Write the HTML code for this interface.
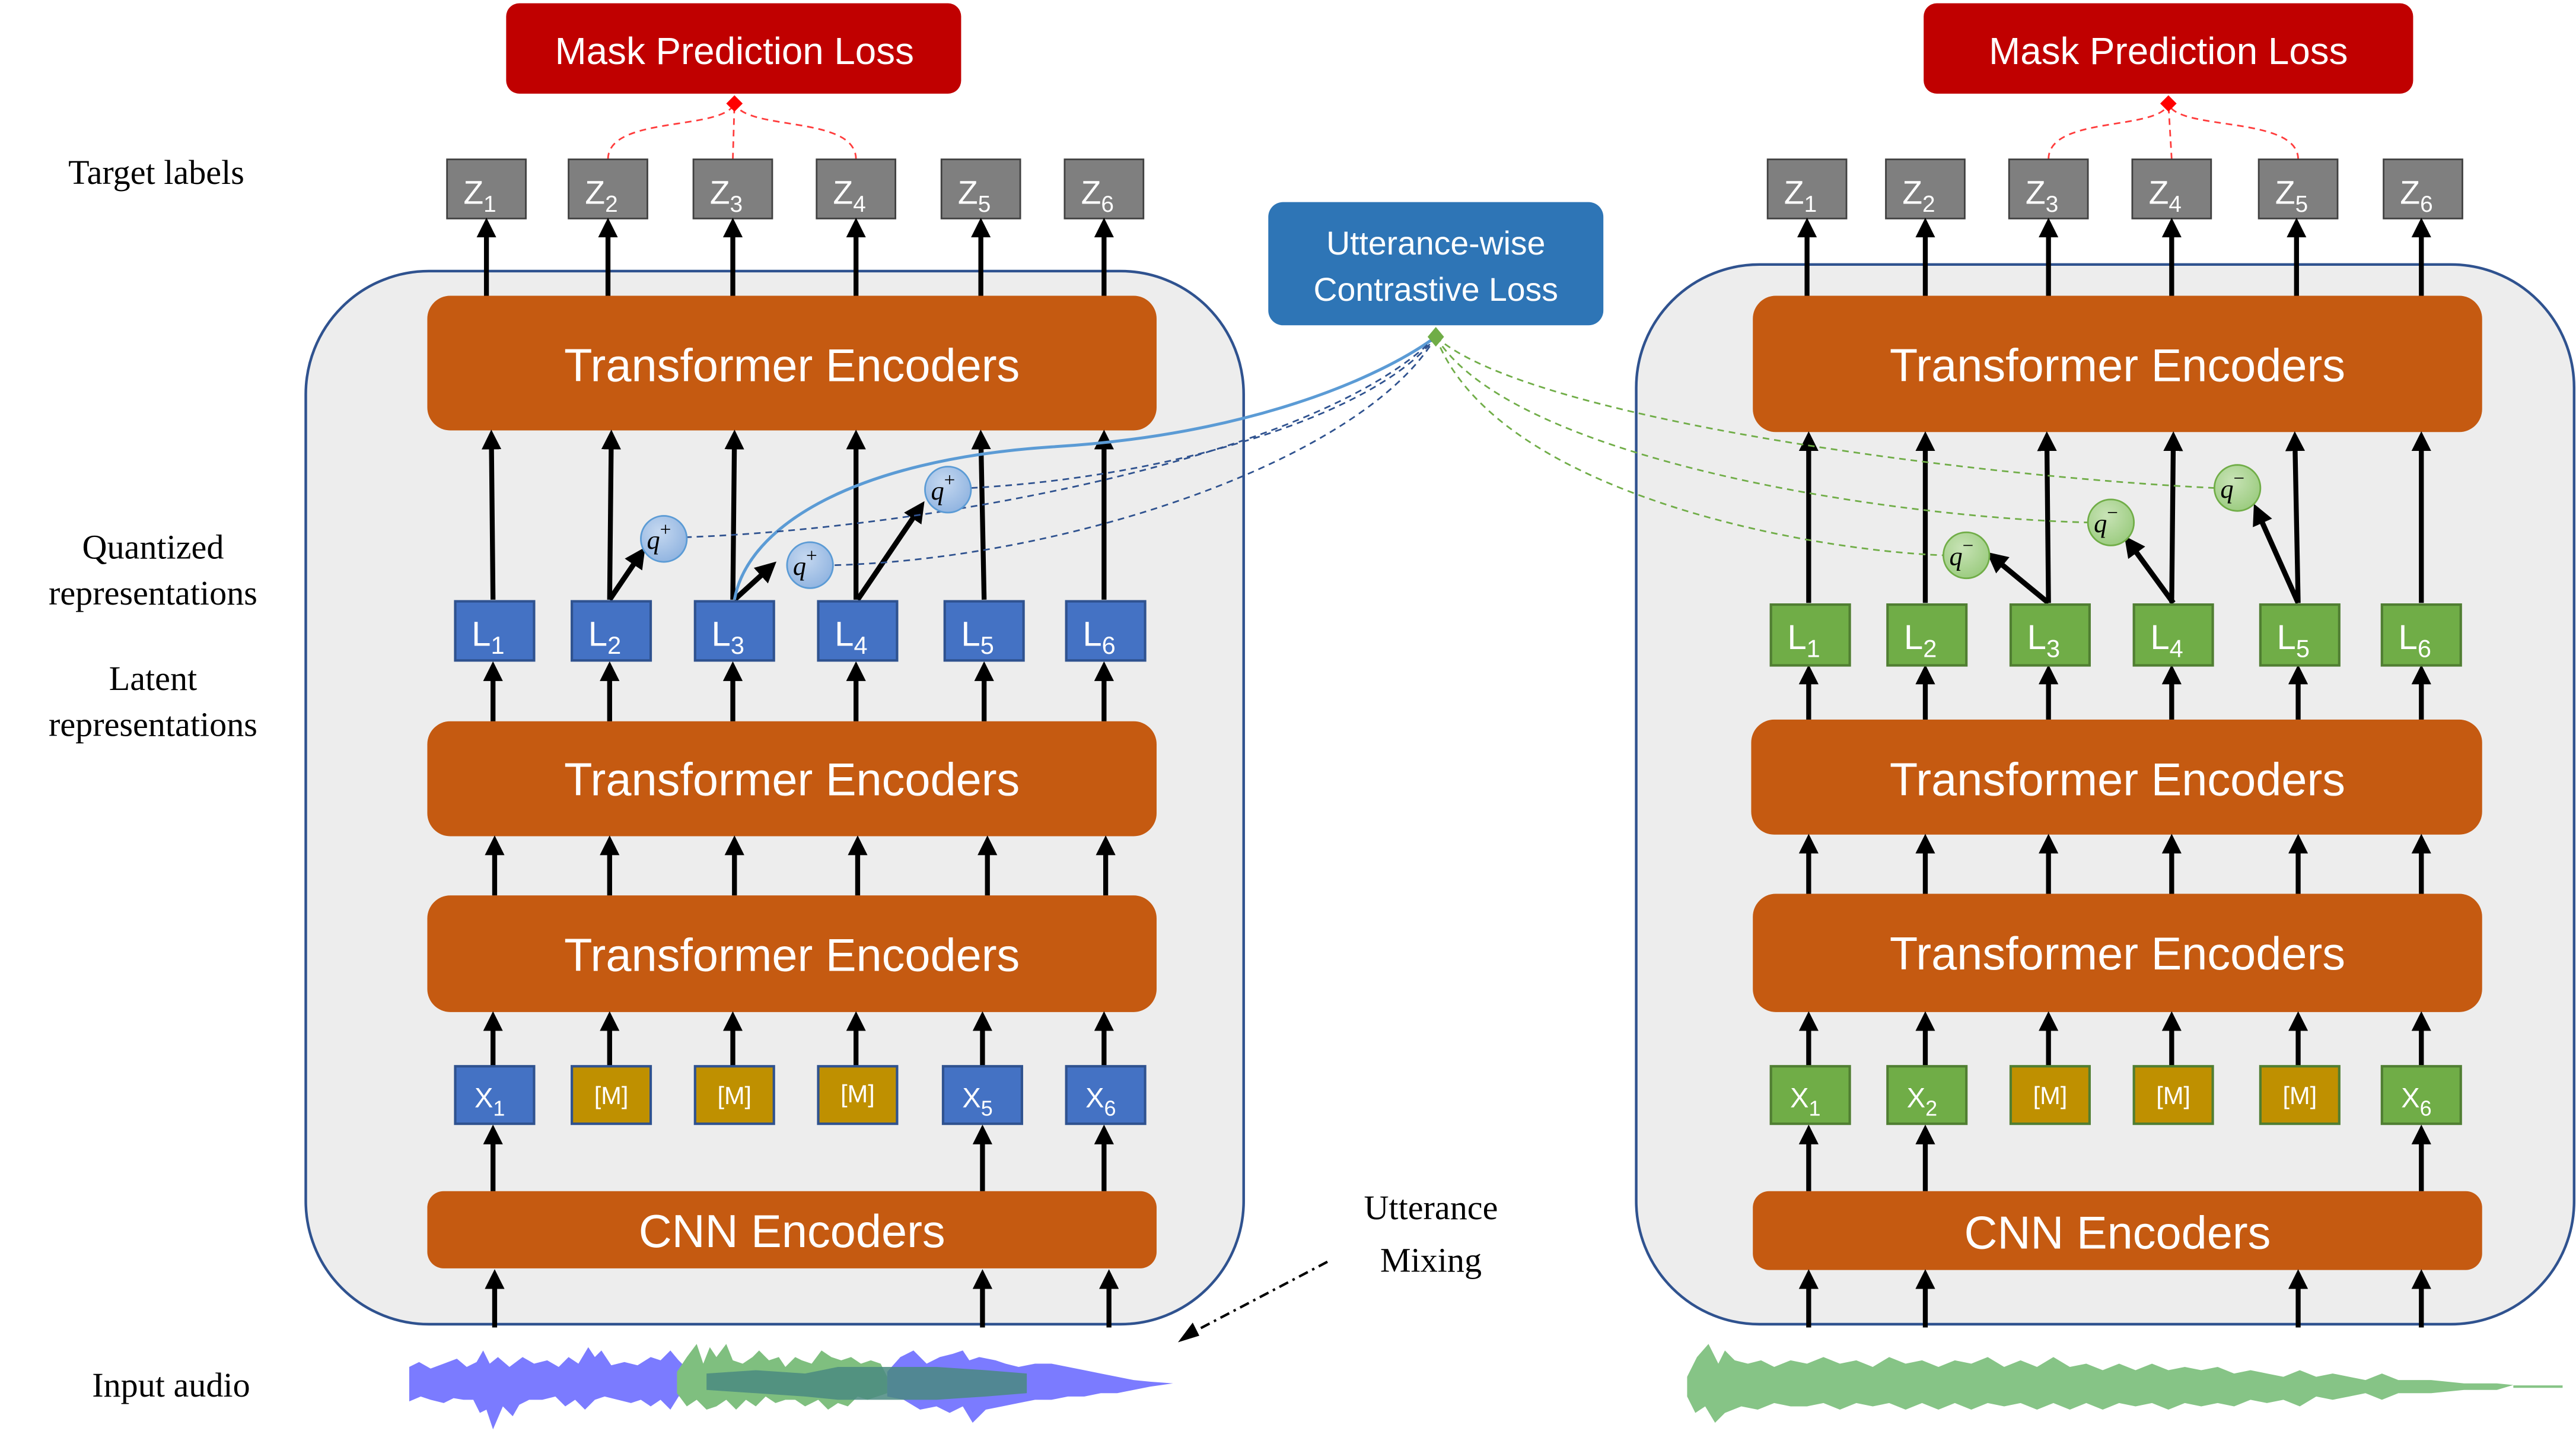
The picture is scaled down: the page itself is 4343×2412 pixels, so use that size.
<!DOCTYPE html>
<html><head><meta charset="utf-8"><style>
html,body{margin:0;padding:0;background:#fff;}
svg{display:block;}
</style></head><body>
<svg width="4343" height="2412" viewBox="0 0 1568 871" xmlns="http://www.w3.org/2000/svg" font-family="'Liberation Sans', sans-serif">
<defs>
<marker id="ah" markerWidth="4" markerHeight="4" refX="2.5" refY="2" orient="auto" markerUnits="strokeWidth"><path d="M0,0 L4,2 L0,4 z" fill="#000"/></marker>
<radialGradient id="qb" cx="40%" cy="35%" r="70%"><stop offset="0" stop-color="#c5d8f0"/><stop offset="1" stop-color="#8fb3e0"/></radialGradient>
<radialGradient id="qg" cx="40%" cy="35%" r="70%"><stop offset="0" stop-color="#c8e3b6"/><stop offset="1" stop-color="#9acb7e"/></radialGradient>
</defs>
<rect width="1568" height="871" fill="#fff"/>

<rect x="186" y="165" width="571" height="641" rx="75" fill="#ededed" stroke="#2f528f" stroke-width="1.6"/>
<rect x="996" y="161" width="571" height="645" rx="75" fill="#ededed" stroke="#2f528f" stroke-width="1.6"/>

<rect x="308" y="2" width="277" height="55" rx="8" fill="#c00000"/>
<text x="447" y="39" font-size="23" fill="#fff" text-anchor="middle">Mask Prediction Loss</text>
<rect x="1171" y="2" width="298" height="55" rx="8" fill="#c00000"/>
<text x="1320" y="39" font-size="23" fill="#fff" text-anchor="middle">Mask Prediction Loss</text>

<g fill="none" stroke="#ff3b3b" stroke-width="1" stroke-dasharray="4,3">
<path d="M370,97 C370,70 440,80 447,63"/><path d="M446,97 L447,63"/><path d="M521,97 C521,70 455,80 447,63"/>
<path d="M1247,97 C1247,70 1315,80 1320,63"/><path d="M1322,97 L1320,63"/><path d="M1399,97 C1399,70 1325,80 1320,63"/>
</g>
<path d="M447,58 L452,63 L447,68 L442,63z" fill="#ff0000"/>
<path d="M1320,58 L1325,63 L1320,68 L1315,63z" fill="#ff0000"/>

<g font-family="'Liberation Serif', serif" font-size="21" fill="#000" text-anchor="middle">
<text x="95" y="112">Target labels</text>
<text x="93" y="340">Quantized</text><text x="93" y="368">representations</text>
<text x="93" y="420">Latent</text><text x="93" y="448">representations</text>
<text x="104" y="850">Input audio</text>
<text x="871" y="742">Utterance</text><text x="871" y="774">Mixing</text>
</g>

<g font-size="20" fill="#fff" text-anchor="middle">
<rect x="272" y="97" width="48" height="36" fill="#7f7f7f" stroke="#404040"/><text x="292" y="124">Z<tspan font-size="14" dy="5">1</tspan></text>
<rect x="346" y="97" width="48" height="36" fill="#7f7f7f" stroke="#404040"/><text x="366" y="124">Z<tspan font-size="14" dy="5">2</tspan></text>
<rect x="422" y="97" width="48" height="36" fill="#7f7f7f" stroke="#404040"/><text x="442" y="124">Z<tspan font-size="14" dy="5">3</tspan></text>
<rect x="497" y="97" width="48" height="36" fill="#7f7f7f" stroke="#404040"/><text x="517" y="124">Z<tspan font-size="14" dy="5">4</tspan></text>
<rect x="573" y="97" width="48" height="36" fill="#7f7f7f" stroke="#404040"/><text x="593" y="124">Z<tspan font-size="14" dy="5">5</tspan></text>
<rect x="648" y="97" width="48" height="36" fill="#7f7f7f" stroke="#404040"/><text x="668" y="124">Z<tspan font-size="14" dy="5">6</tspan></text>
<rect x="1076" y="97" width="48" height="36" fill="#7f7f7f" stroke="#404040"/><text x="1096" y="124">Z<tspan font-size="14" dy="5">1</tspan></text>
<rect x="1148" y="97" width="48" height="36" fill="#7f7f7f" stroke="#404040"/><text x="1168" y="124">Z<tspan font-size="14" dy="5">2</tspan></text>
<rect x="1223" y="97" width="48" height="36" fill="#7f7f7f" stroke="#404040"/><text x="1243" y="124">Z<tspan font-size="14" dy="5">3</tspan></text>
<rect x="1298" y="97" width="48" height="36" fill="#7f7f7f" stroke="#404040"/><text x="1318" y="124">Z<tspan font-size="14" dy="5">4</tspan></text>
<rect x="1375" y="97" width="48" height="36" fill="#7f7f7f" stroke="#404040"/><text x="1395" y="124">Z<tspan font-size="14" dy="5">5</tspan></text>
<rect x="1451" y="97" width="48" height="36" fill="#7f7f7f" stroke="#404040"/><text x="1471" y="124">Z<tspan font-size="14" dy="5">6</tspan></text>
</g>

<g fill="#c55a11">
<rect x="260" y="180" width="444" height="82" rx="14"/>
<rect x="260" y="439" width="444" height="70" rx="14"/>
<rect x="260" y="545" width="444" height="71" rx="14"/>
<rect x="260" y="725" width="444" height="47" rx="10"/>
<rect x="1067" y="180" width="444" height="83" rx="14"/>
<rect x="1066" y="438" width="445" height="70" rx="14"/>
<rect x="1067" y="544" width="444" height="72" rx="14"/>
<rect x="1067" y="725" width="444" height="48" rx="10"/>
</g>
<g fill="#fff" font-size="28" text-anchor="middle">
<text x="482" y="232">Transformer Encoders</text>
<text x="482" y="484">Transformer Encoders</text>
<text x="482" y="591">Transformer Encoders</text>
<text x="482" y="759">CNN Encoders</text>
<text x="1289" y="232">Transformer Encoders</text>
<text x="1289" y="484">Transformer Encoders</text>
<text x="1289" y="590">Transformer Encoders</text>
<text x="1289" y="760">CNN Encoders</text>
</g>

<rect x="772" y="123" width="204" height="75" rx="9" fill="#2e75b6"/>
<text x="874" y="155" font-size="20" fill="#fff" text-anchor="middle">Utterance-wise</text>
<text x="874" y="183" font-size="20" fill="#fff" text-anchor="middle">Contrastive Loss</text>

<g stroke="#000" stroke-width="3" marker-end="url(#ah)" fill="none">
<line x1="296" y1="180" x2="296" y2="137"/><line x1="370" y1="180" x2="370" y2="137"/><line x1="446" y1="180" x2="446" y2="137"/><line x1="521" y1="180" x2="521" y2="137"/><line x1="597" y1="180" x2="597" y2="137"/><line x1="672" y1="180" x2="672" y2="137"/>
<line x1="1100" y1="180" x2="1100" y2="137"/><line x1="1172" y1="180" x2="1172" y2="137"/><line x1="1247" y1="180" x2="1247" y2="137"/><line x1="1322" y1="180" x2="1322" y2="137"/><line x1="1398" y1="180" x2="1398" y2="137"/><line x1="1474" y1="180" x2="1474" y2="137"/>
<line x1="300" y1="365" x2="299" y2="266"/><line x1="371" y1="365" x2="372" y2="266"/><line x1="446" y1="365" x2="447" y2="266"/><line x1="521" y1="365" x2="521" y2="266"/><line x1="599" y1="365" x2="597" y2="266"/><line x1="672" y1="365" x2="672" y2="266"/>
<line x1="1101" y1="367" x2="1101" y2="267"/><line x1="1172" y1="367" x2="1172" y2="267"/><line x1="1247" y1="367" x2="1246" y2="267"/><line x1="1322" y1="367" x2="1323" y2="267"/><line x1="1399" y1="367" x2="1397" y2="267"/><line x1="1474" y1="367" x2="1474" y2="267"/>
<line x1="300" y1="439" x2="300" y2="407"/><line x1="371" y1="439" x2="371" y2="407"/><line x1="446" y1="439" x2="446" y2="407"/><line x1="521" y1="439" x2="521" y2="407"/><line x1="599" y1="439" x2="599" y2="407"/><line x1="672" y1="439" x2="672" y2="407"/>
<line x1="1101" y1="438" x2="1101" y2="409"/><line x1="1172" y1="438" x2="1172" y2="409"/><line x1="1247" y1="438" x2="1247" y2="409"/><line x1="1322" y1="438" x2="1322" y2="409"/><line x1="1399" y1="438" x2="1399" y2="409"/><line x1="1474" y1="438" x2="1474" y2="409"/>
<line x1="301" y1="545" x2="301" y2="513"/><line x1="371" y1="545" x2="371" y2="513"/><line x1="447" y1="545" x2="447" y2="513"/><line x1="522" y1="545" x2="522" y2="513"/><line x1="601" y1="545" x2="601" y2="513"/><line x1="673" y1="545" x2="673" y2="513"/>
<line x1="1101" y1="544" x2="1101" y2="512"/><line x1="1172" y1="544" x2="1172" y2="512"/><line x1="1247" y1="544" x2="1247" y2="512"/><line x1="1322" y1="544" x2="1322" y2="512"/><line x1="1399" y1="544" x2="1399" y2="512"/><line x1="1474" y1="544" x2="1474" y2="512"/>
<line x1="300" y1="649" x2="300" y2="620"/><line x1="371" y1="649" x2="371" y2="620"/><line x1="446" y1="649" x2="446" y2="620"/><line x1="521" y1="649" x2="521" y2="620"/><line x1="598" y1="649" x2="598" y2="620"/><line x1="672" y1="649" x2="672" y2="620"/>
<line x1="1101" y1="649" x2="1101" y2="620"/><line x1="1172" y1="649" x2="1172" y2="620"/><line x1="1247" y1="649" x2="1247" y2="620"/><line x1="1322" y1="649" x2="1322" y2="620"/><line x1="1399" y1="649" x2="1399" y2="620"/><line x1="1474" y1="649" x2="1474" y2="620"/>
<line x1="300" y1="725" x2="300" y2="689"/><line x1="598" y1="725" x2="598" y2="689"/><line x1="672" y1="725" x2="672" y2="689"/>
<line x1="1101" y1="725" x2="1101" y2="689"/><line x1="1172" y1="725" x2="1172" y2="689"/><line x1="1474" y1="725" x2="1474" y2="689"/>
<line x1="301" y1="808" x2="301" y2="777"/><line x1="598" y1="808" x2="598" y2="777"/><line x1="675" y1="808" x2="675" y2="777"/>
<line x1="1101" y1="808" x2="1101" y2="777"/><line x1="1172" y1="808" x2="1172" y2="777"/><line x1="1399" y1="808" x2="1399" y2="777"/><line x1="1474" y1="808" x2="1474" y2="777"/>
</g>
<g stroke="#000" stroke-width="3.2" marker-end="url(#ah)" fill="none">
<line x1="371" y1="365" x2="390" y2="337"/><line x1="447" y1="365" x2="469" y2="345"/><line x1="522" y1="365" x2="560" y2="309"/>
<line x1="1247" y1="367" x2="1213" y2="339"/><line x1="1323" y1="367" x2="1296" y2="330"/><line x1="1399" y1="367" x2="1374" y2="311"/>
</g>

<path d="M447,365 C455,320 520,280 640,272 C760,265 840,230 874,205" fill="none" stroke="#5b9bd5" stroke-width="1.8"/>
<g fill="none" stroke="#2f528f" stroke-width="1" stroke-dasharray="4,3">
<path d="M417,327 C560,322 800,280 874,205"/><path d="M508,344 C650,340 830,280 874,205"/><path d="M591,297 C720,290 840,250 874,205"/>
</g>
<g fill="none" stroke="#70ad47" stroke-width="1" stroke-dasharray="4,3">
<path d="M874,205 C910,300 1100,335 1183,338"/><path d="M874,205 C920,280 1150,315 1271,318"/><path d="M874,205 C930,255 1200,290 1348,297"/>
</g>
<path d="M874,199 L879,205 L874,211 L869,205z" fill="#70ad47"/>

<g font-family="'Liberation Serif', serif" font-style="italic" font-size="16" text-anchor="middle">
<ellipse cx="404" cy="328" rx="14" ry="14" fill="url(#qb)" stroke="#5b9bd5"/><text x="401" y="334">q<tspan font-style="normal" font-size="12" dy="-8">+</tspan></text>
<ellipse cx="493" cy="344" rx="14" ry="14" fill="url(#qb)" stroke="#5b9bd5"/><text x="490" y="350">q<tspan font-style="normal" font-size="12" dy="-8">+</tspan></text>
<ellipse cx="577" cy="298" rx="14" ry="14" fill="url(#qb)" stroke="#5b9bd5"/><text x="574" y="304">q<tspan font-style="normal" font-size="12" dy="-8">+</tspan></text>
<ellipse cx="1197" cy="338" rx="14" ry="14" fill="url(#qg)" stroke="#70ad47"/><text x="1194" y="344">q<tspan font-style="normal" font-size="12" dy="-8">−</tspan></text>
<ellipse cx="1285" cy="318" rx="14" ry="14" fill="url(#qg)" stroke="#70ad47"/><text x="1282" y="324">q<tspan font-style="normal" font-size="12" dy="-8">−</tspan></text>
<ellipse cx="1362" cy="297" rx="14" ry="14" fill="url(#qg)" stroke="#70ad47"/><text x="1359" y="303">q<tspan font-style="normal" font-size="12" dy="-8">−</tspan></text>
</g>

<g font-size="21" fill="#fff" text-anchor="middle">
<rect x="277" y="366" width="48" height="36" fill="#4472c4" stroke="#2f528f" stroke-width="1.5"/><text x="297" y="393">L<tspan font-size="15" dy="5">1</tspan></text>
<rect x="348" y="366" width="48" height="36" fill="#4472c4" stroke="#2f528f" stroke-width="1.5"/><text x="368" y="393">L<tspan font-size="15" dy="5">2</tspan></text>
<rect x="423" y="366" width="48" height="36" fill="#4472c4" stroke="#2f528f" stroke-width="1.5"/><text x="443" y="393">L<tspan font-size="15" dy="5">3</tspan></text>
<rect x="498" y="366" width="48" height="36" fill="#4472c4" stroke="#2f528f" stroke-width="1.5"/><text x="518" y="393">L<tspan font-size="15" dy="5">4</tspan></text>
<rect x="575" y="366" width="48" height="36" fill="#4472c4" stroke="#2f528f" stroke-width="1.5"/><text x="595" y="393">L<tspan font-size="15" dy="5">5</tspan></text>
<rect x="649" y="366" width="48" height="36" fill="#4472c4" stroke="#2f528f" stroke-width="1.5"/><text x="669" y="393">L<tspan font-size="15" dy="5">6</tspan></text>
<rect x="1078" y="368" width="48" height="37" fill="#70ad47" stroke="#507e32" stroke-width="1.5"/><text x="1098" y="395">L<tspan font-size="15" dy="5">1</tspan></text>
<rect x="1149" y="368" width="48" height="37" fill="#70ad47" stroke="#507e32" stroke-width="1.5"/><text x="1169" y="395">L<tspan font-size="15" dy="5">2</tspan></text>
<rect x="1224" y="368" width="48" height="37" fill="#70ad47" stroke="#507e32" stroke-width="1.5"/><text x="1244" y="395">L<tspan font-size="15" dy="5">3</tspan></text>
<rect x="1299" y="368" width="48" height="37" fill="#70ad47" stroke="#507e32" stroke-width="1.5"/><text x="1319" y="395">L<tspan font-size="15" dy="5">4</tspan></text>
<rect x="1376" y="368" width="48" height="37" fill="#70ad47" stroke="#507e32" stroke-width="1.5"/><text x="1396" y="395">L<tspan font-size="15" dy="5">5</tspan></text>
<rect x="1450" y="368" width="48" height="37" fill="#70ad47" stroke="#507e32" stroke-width="1.5"/><text x="1470" y="395">L<tspan font-size="15" dy="5">6</tspan></text>
</g>

<g font-size="17" fill="#fff" text-anchor="middle">
<rect x="277" y="649" width="48" height="35" fill="#4472c4" stroke="#2f528f" stroke-width="1.5"/><text x="298" y="674">X<tspan font-size="13" dy="5">1</tspan></text>
<rect x="348" y="649" width="48" height="35" fill="#bf9000" stroke="#2f528f" stroke-width="1.5"/><text x="372" y="672" font-size="15">[M]</text>
<rect x="423" y="649" width="48" height="35" fill="#bf9000" stroke="#2f528f" stroke-width="1.5"/><text x="447" y="672" font-size="15">[M]</text>
<rect x="498" y="649" width="48" height="35" fill="#bf9000" stroke="#2f528f" stroke-width="1.5"/><text x="522" y="671" font-size="15">[M]</text>
<rect x="574" y="649" width="48" height="35" fill="#4472c4" stroke="#2f528f" stroke-width="1.5"/><text x="595" y="674">X<tspan font-size="13" dy="5">5</tspan></text>
<rect x="649" y="649" width="48" height="35" fill="#4472c4" stroke="#2f528f" stroke-width="1.5"/><text x="670" y="674">X<tspan font-size="13" dy="5">6</tspan></text>
<rect x="1078" y="649" width="48" height="35" fill="#70ad47" stroke="#507e32" stroke-width="1.5"/><text x="1099" y="674">X<tspan font-size="13" dy="5">1</tspan></text>
<rect x="1149" y="649" width="48" height="35" fill="#70ad47" stroke="#507e32" stroke-width="1.5"/><text x="1170" y="674">X<tspan font-size="13" dy="5">2</tspan></text>
<rect x="1224" y="649" width="48" height="35" fill="#bf9000" stroke="#507e32" stroke-width="1.5"/><text x="1248" y="672" font-size="15">[M]</text>
<rect x="1299" y="649" width="48" height="35" fill="#bf9000" stroke="#507e32" stroke-width="1.5"/><text x="1323" y="672" font-size="15">[M]</text>
<rect x="1376" y="649" width="48" height="35" fill="#bf9000" stroke="#507e32" stroke-width="1.5"/><text x="1400" y="672" font-size="15">[M]</text>
<rect x="1450" y="649" width="48" height="35" fill="#70ad47" stroke="#507e32" stroke-width="1.5"/><text x="1471" y="674">X<tspan font-size="13" dy="5">6</tspan></text>
</g>

<path d="M808,768 L724,812" stroke="#000" stroke-width="1.5" stroke-dasharray="6,3,1.5,3" fill="none"/>
<path d="M717,817 L726,805 L730,813z" fill="#000"/>

<polygon fill="#7b7bff" points="249,832 255,829 262,833 270,830 278,827 284,832 290,829 294,822 298,830 303,826 310,832 318,826 325,830 333,828 340,832 346,826 352,830 358,820 362,826 366,822 372,831 380,829 388,831 396,826 402,828 408,822 413,828 420,835 420,845 413,850 408,858 402,852 396,856 390,852 384,854 376,852 368,850 362,852 356,858 350,852 344,856 338,850 330,852 322,852 316,855 312,862 306,856 300,870 296,858 292,860 288,852 282,852 276,851 270,854 262,852 256,850 249,853"/>
<polygon fill="#7fbf7f" points="412,835 418,826 424,818 428,830 432,820 436,826 442,818 446,828 452,830 458,826 462,822 468,828 474,826 478,832 484,826 488,828 494,830 500,822 506,826 512,828 518,826 524,830 530,828 536,830 540,838 540,848 534,850 528,852 522,850 516,856 510,854 504,858 498,852 490,856 484,852 478,852 472,854 466,850 460,856 454,852 448,858 442,852 436,856 430,858 424,852 418,856 412,848"/>
<polygon fill="#7b7bff" points="540,835 548,826 556,822 564,830 572,826 580,824 586,822 590,828 596,826 606,828 612,830 620,832 630,830 640,830 650,832 660,834 670,836 680,838 690,840 700,841 714,842 700,844 690,846 680,848 670,848 660,850 650,850 640,852 630,852 620,854 610,856 600,858 592,866 586,856 578,860 570,856 560,858 550,852 540,850"/>
<polygon fill="#4a8a80" opacity="0.85" points="430,836 460,834 490,836 510,832 540,832 570,832 600,834 625,836 625,848 600,850 570,852 540,852 510,852 490,850 460,848 430,846"/>
<polygon fill="#86c486" points="1027,838 1033,826 1040,818 1046,830 1050,822 1056,828 1064,830 1072,828 1080,832 1090,828 1100,830 1110,826 1120,830 1130,828 1140,832 1150,826 1160,830 1170,828 1180,832 1190,828 1200,830 1210,826 1220,832 1230,828 1240,832 1250,826 1260,832 1270,830 1280,834 1290,830 1300,834 1310,830 1320,834 1330,832 1340,834 1350,832 1360,836 1370,834 1380,836 1390,838 1400,834 1410,838 1420,836 1430,838 1440,840 1450,836 1460,840 1480,840 1500,842 1520,842 1530,843 1520,846 1500,846 1480,848 1460,848 1450,852 1440,848 1430,850 1420,852 1410,850 1400,856 1390,852 1380,854 1370,852 1360,856 1350,854 1340,856 1330,854 1320,858 1310,854 1300,856 1290,854 1280,858 1270,854 1260,858 1250,854 1240,858 1230,854 1220,856 1210,854 1200,858 1190,854 1180,858 1170,854 1160,858 1150,854 1140,856 1130,854 1120,858 1110,854 1100,856 1090,856 1080,854 1070,858 1060,856 1050,860 1044,866 1038,856 1032,860 1027,850"/>
<line x1="1530" y1="844" x2="1560" y2="844" stroke="#86c486" stroke-width="1.5"/>
</svg>
</body></html>
